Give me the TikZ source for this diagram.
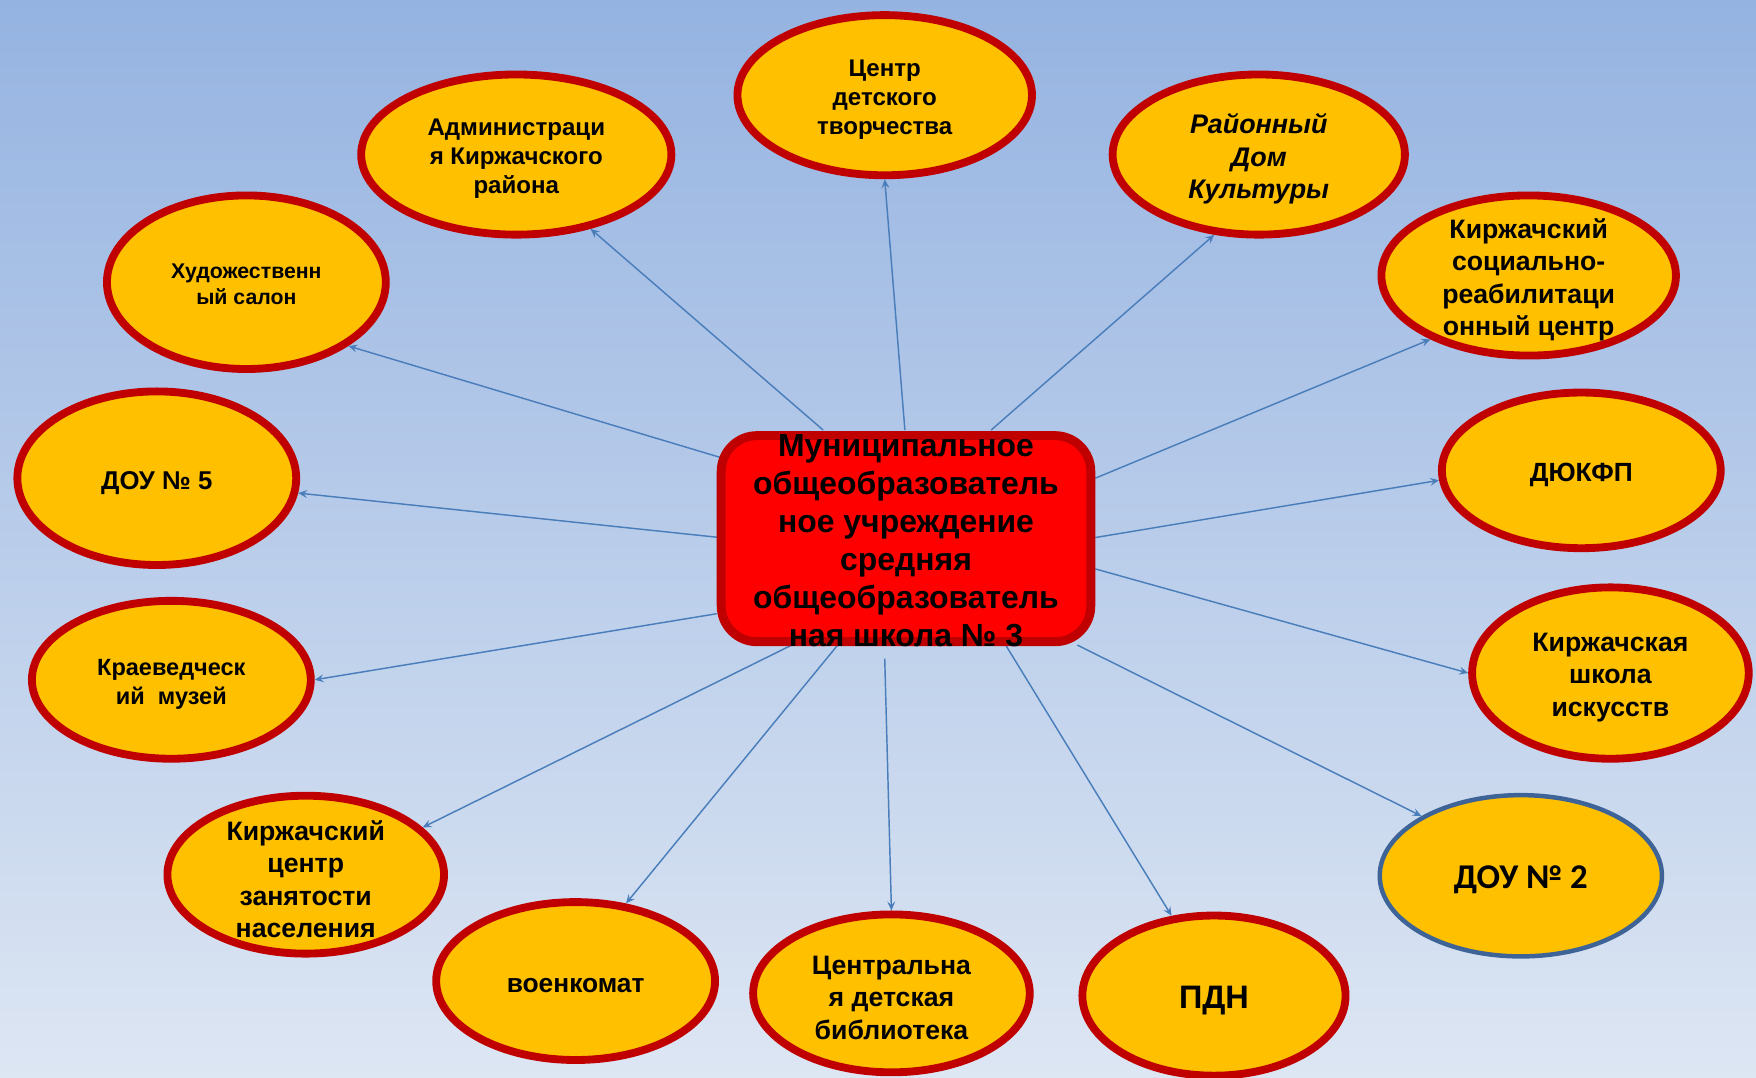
\documentclass[tikz,border=0pt]{standalone}
\usepackage{fontspec}
\setmainfont{Liberation Sans}
\newfontfamily\carlitofont{Carlito}
\usetikzlibrary{shapes.geometric,arrows.meta}
\definecolor{bgtop}{HTML}{95B3E1}
\definecolor{bgbot}{HTML}{DDE6F3}
\definecolor{elfill}{HTML}{FFC000}
\definecolor{elborder}{HTML}{C00000}
\definecolor{bluebord}{HTML}{3E6396}
\definecolor{connc}{HTML}{4A7EBB}
\definecolor{boxfill}{HTML}{FF0000}
\begin{document}
\begin{tikzpicture}[x=1pt,y=-1pt,
  org/.style={ellipse, draw=elborder, line width=7pt, fill=elfill, inner sep=0pt},
  txt/.style={align=center, inner sep=0pt, yshift=-4pt},
  fa/.style={txt, font=\fontsize{21.5}{26}\selectfont\bfseries},
  fb/.style={txt, font=\fontsize{23.8}{29}\selectfont\bfseries},
  link/.style={draw=connc, line width=1.3pt, -{Stealth[length=8pt,width=7pt,inset=3pt]}},
  schoolbox/.style={rectangle, rounded corners=32pt, draw=elborder, line width=8pt, fill=boxfill, inner sep=0pt}
]
\useasboundingbox (0,0) rectangle (1568,962);
\shade[top color=bgtop, bottom color=bgbot] (0,0) rectangle (1568,962);

% outer organisations (shapes)
\node[org, minimum width=263pt, minimum height=143pt] (cdt) at (790,85) {};
\node[org, minimum width=277pt, minimum height=143pt] (adm) at (461,138) {};
\node[org, minimum width=261pt, minimum height=143pt] (rdk) at (1124,138) {};
\node[org, minimum width=263pt, minimum height=143pt] (ksr) at (1365,246) {};
\node[org, minimum width=249pt, minimum height=155pt] (hud) at (220,252) {};
\node[org, minimum width=249pt, minimum height=155pt] (dou5) at (140,427) {};
\node[org, minimum width=249pt, minimum height=139pt] (dyukfp) at (1412,420) {};
\node[org, minimum width=249pt, minimum height=141pt] (kraev) at (153,607) {};
\node[org, minimum width=247pt, minimum height=153pt] (kshi) at (1438,601) {};
\node[org, minimum width=247pt, minimum height=141pt] (kczn) at (273,781) {};
\node[org, draw=bluebord, line width=4pt, minimum width=252pt, minimum height=144pt] (dou2) at (1358,782) {};
\node[org, minimum width=249pt, minimum height=141pt] (voenk) at (514,876) {};
\node[org, minimum width=247pt, minimum height=141pt] (cdb) at (796,887) {};
\node[org, minimum width=235pt, minimum height=143pt] (pdn) at (1084,889) {};

% texts
\node[fa] (cdtT) at (cdt) {Центр\\детского\\творчества};
\node[fa] (admT) at (adm) {Администраци\\я Киржачского\\района};
\node[txt, font=\fontsize{24}{29}\selectfont\bfseries\itshape] (rdkT) at (rdk) {Районный\\Дом\\Культуры};
\node[fb] (ksrT) at (ksr) {Киржачский\\социально-\\реабилитаци\\онный центр};
\node[txt, font=\fontsize{19}{23}\selectfont\bfseries, yshift=2pt] (hudT) at (hud) {Художественн\\ый салон};
\node[txt, font=\fontsize{23}{26}\selectfont\bfseries] (dou5T) at (dou5) {ДОУ № 5};
\node[txt, font=\fontsize{23.5}{26}\selectfont\bfseries] (dyukfpT) at (dyukfp) {ДЮКФП};
\node[txt, font=\fontsize{21}{26}\selectfont\bfseries] (kraevT) at (kraev) {Краеведческ\\ий\ \ музей};
\node[fb] (kshiT) at (kshi) {Киржачская\\школа\\искусств};
\node[fb] (kcznT) at (kczn) {Киржачский\\центр\\занятости\\населения};
\node[txt, font=\fontsize{31}{34}\selectfont\carlitofont\bfseries] (dou2T) at (dou2) {ДОУ № 2};
\node[txt, font=\fontsize{23.5}{26}\selectfont\bfseries] (voenkT) at (voenk) {военкомат};
\node[fb] (cdbT) at (cdb) {Центральна\\я детская\\библиотека};
\node[txt, font=\fontsize{29}{32}\selectfont\bfseries] (pdnT) at (pdn) {ПДН};

% connector start points on the school box
\coordinate (s1) at (808,384);
\coordinate (s2) at (735,384);
\coordinate (s3) at (885,384);
\coordinate (s4) at (655,412);
\coordinate (s5) at (978,427);
\coordinate (s6) at (643,480);
\coordinate (s7) at (978,480);
\coordinate (s8) at (640,548);
\coordinate (s9) at (978,508);
\coordinate (s10) at (707,576);
\coordinate (s11) at (962,576);
\coordinate (s12) at (748,576);
\coordinate (s13) at (790,588);
\coordinate (s14) at (898,576);

\draw[link] (s1) -- (cdt.-90);
\draw[link] (s2) -- (adm.-45);
\draw[link] (s3) -- (rdk.-119);
\draw[link] (s4) -- (hud.-32);
\draw[link] (s5) -- (ksr.-147);
\draw[link] (s6) -- (dou5.-6);
\draw[link] (s7) -- (dyukfp.-176);
\draw[link] (s8) -- (kraev.0);
\draw[link] (s9) -- (kshi.180);
\draw[link] (s10) -- (kczn.22);
\draw[link] (s11) -- (dou2.149);
\draw[link] (s12) -- (voenk.57);
\draw[link] (s13) -- (cdb.90);
\draw[link] (s14) -- (pdn.118);

% central school
\node[schoolbox, minimum width=330pt, minimum height=184pt] (school) at (809,481) {};
\node[font=\fontsize{28.5}{34}\selectfont\bfseries, align=center, inner sep=0pt] (schooltxt) at (809,483) {Муниципальное\\общеобразователь\\ное учреждение\\средняя\\общеобразователь\\ная школа № 3};
\end{tikzpicture}
\end{document}
